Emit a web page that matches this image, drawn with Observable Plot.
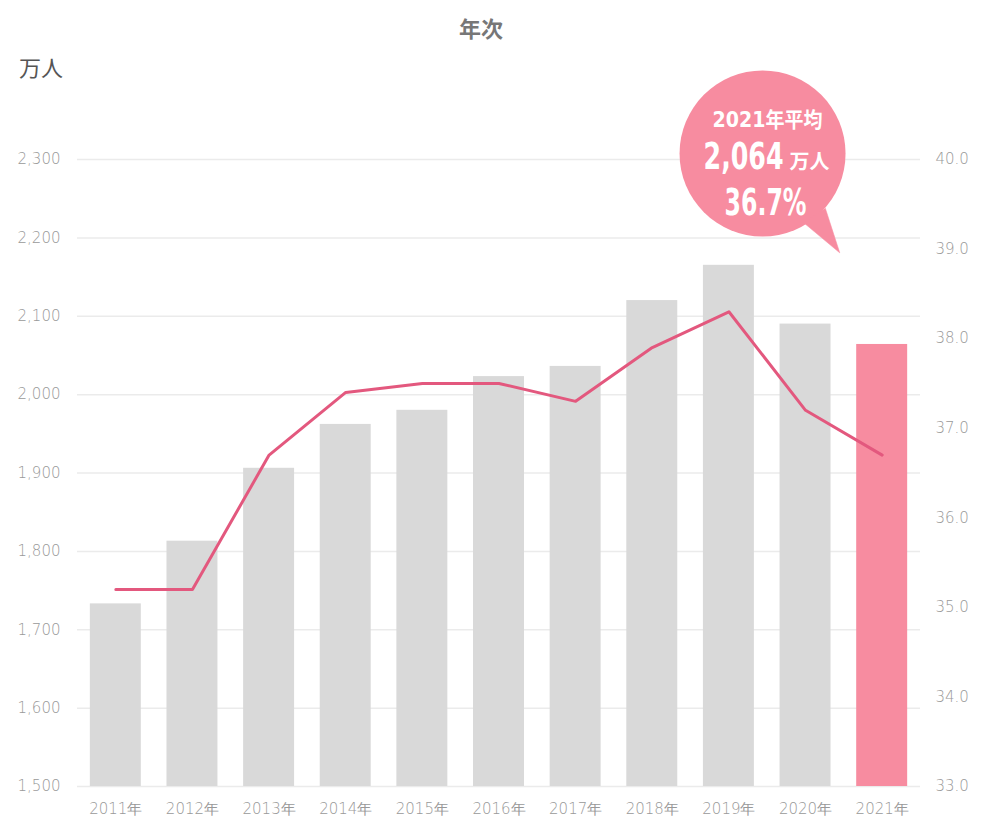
<!DOCTYPE html>
<html>
<head>
<meta charset="utf-8">
<script src="https://cdn.jsdelivr.net/npm/d3@7"></script>
<script src="https://cdn.jsdelivr.net/npm/@observablehq/plot@0.6"></script>
<style>
  body { margin: 0; background: #fff; }
  #wrap { position: relative; width: 989px; height: 825px; }
  #title { position: absolute; left: 0; width: 962px; top: 11px; text-align: center; font: bold 22px "Noto Sans CJK JP", sans-serif; color: #777; }
  #unit { position: absolute; left: 19px; top: 50px; font: 400 22px "Noto Sans CJK JP", sans-serif; color: #555; }
  svg { position: absolute; left: 0; top: 0; }
</style>
</head>
<body>
<div id="wrap">
  <div id="title">年次</div>
  <div id="unit">万人</div>
</div>
<script>
const years = ["2011年","2012年","2013年","2014年","2015年","2016年","2017年","2018年","2019年","2020年","2021年"];
const workers = [1733, 1813, 1906, 1962, 1980, 2023, 2036, 2120, 2165, 2090, 2064];
const ratio = [35.2, 35.2, 36.7, 37.4, 37.5, 37.5, 37.3, 37.9, 38.3, 37.2, 36.7];
const leftTicks = [1500, 1600, 1700, 1800, 1900, 2000, 2100, 2200, 2300];
const rightTicks = [33, 34, 35, 36, 37, 38, 39, 40];
const bubbleLines = ["2021年平均", "2,064", "万人", "36.7%"];

const data = years.map((year, i) => ({year, workers: workers[i], ratio: ratio[i]}));
const toLeft = d3.scaleLinear([33, 40], [1500, 2300]);
const highlight = "2021年";
const pink = "#f78ca0";
const lineColor = "#e3587e";
const bubbleFont = '"DejaVu Sans", "Noto Sans CJK JP", sans-serif';
const axisFont = '"DejaVu Sans", sans-serif';
const anchorX = () => "2020年";
const anchorY = () => 2300;

const chart = Plot.plot({
  width: 989,
  height: 825,
  marginTop: 159,
  marginBottom: 39,
  marginLeft: 77,
  marginRight: 69,
  x: {domain: years, paddingInner: 0.335, paddingOuter: 0.1675, round: false, axis: null},
  y: {domain: [1500, 2300], axis: null},
  color: {type: "identity"},
  style: {fontFamily: axisFont, overflow: "visible", background: "transparent"},
  marks: [
    Plot.ruleY(leftTicks, {stroke: "#ebebeb", strokeWidth: 1.5}),
    Plot.barY(data, {x: "year", y1: () => 1500, y2: "workers", fill: d => d.year === highlight ? pink : "#d9d9d9"}),
    Plot.line(data, {x: "year", y: d => toLeft(d.ratio), stroke: lineColor, strokeWidth: 3}),
    Plot.axisY(leftTicks, {anchor: "left", label: null, tickSize: 0, tickPadding: 17, tickFormat: d3.format(","), fontSize: 15, fill: "#999", fontWeight: 200}),
    Plot.axisY(rightTicks.map(v => toLeft(v)), {anchor: "right", label: null, tickSize: 0, tickPadding: 15, tickFormat: v => toLeft.invert(v).toFixed(1), fontSize: 15, fill: "#999", fontWeight: 200}),
    Plot.axisX({label: null, tickSize: 0, tickPadding: 17, fontSize: 15, fill: "#999", fontWeight: 200}),
    // speech bubble annotation
    Plot.dot([0], {x: anchorX, y: anchorY, dx: -43, dy: -6, r: 83, fill: pink, stroke: "none"}),
    Plot.vector([0], {x: anchorX, y: anchorY, dx: 9, dy: 56, shape: "spike", anchor: "start", length: 45, r: 13, rotate: 146, fill: pink, stroke: pink, strokeWidth: 0.5}),
    Plot.text([bubbleLines[0]], {x: anchorX, y: anchorY, text: d => d, dx: -38, dy: -39, fill: "white", fontSize: 21, fontWeight: "bold", fontFamily: bubbleFont}),
    Plot.text([bubbleLines[1]], {x: anchorX, y: anchorY, text: d => d, dx: -22, dy: -3, textAnchor: "end", fill: "white", fontSize: 38, fontWeight: "bold", fontFamily: bubbleFont}),
    Plot.text([bubbleLines[2]], {x: anchorX, y: anchorY, text: d => d, dx: -16, dy: 3, textAnchor: "start", fill: "white", fontSize: 20, fontWeight: "bold", fontFamily: '"Noto Sans CJK JP", sans-serif'}),
    Plot.text([bubbleLines[3]], {x: anchorX, y: anchorY, text: d => d, dx: -40, dy: 43, fill: "white", fontSize: 38, fontWeight: "bold", fontFamily: bubbleFont})
  ]
});
// squeeze bubble texts to the narrow display face of the reference
const squeeze = {"2021年平均": 110, "2,064": 80, "36.7%": 82};
d3.select(chart).selectAll("text").each(function () {
  const t = this.textContent;
  if (t in squeeze) d3.select(this).attr("textLength", squeeze[t]).attr("lengthAdjust", "spacingAndGlyphs");
});
document.getElementById("wrap").prepend(chart);
</script>
</body>
</html>
